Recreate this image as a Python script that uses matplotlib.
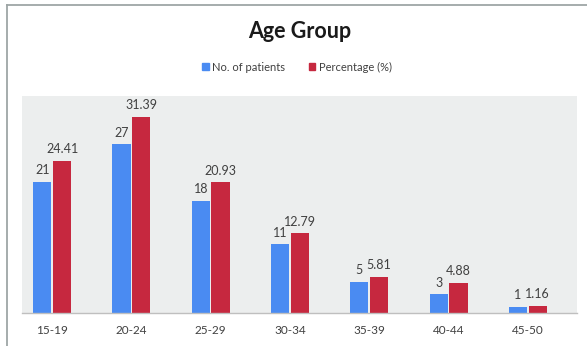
import matplotlib.pyplot as plt
from matplotlib.lines import Line2D
from matplotlib.patches import Patch
import numpy as np

age_groups = ['15-19', '20-24', '25-29', '30-34', '35-39', '40-44', '45-50']
patients = [21, 27, 18, 11, 5, 3, 1]
percentage = [24.41, 31.39, 20.93, 12.79, 5.81, 4.88, 1.16]
count_labels = ['21', '27', '18', '11', '5', '3', '1']
pct_labels = ['24.41', '31.39', '20.93', '12.79', '5.81', '4.88', '1.16']

blue = '#4A8BF2'
red = '#C6283F'
text_col = '#404040'

plt.rcParams['font.family'] = ['Lato', 'DejaVu Sans']

fig = plt.figure(figsize=(5.87, 3.46), dpi=100)
fig.patch.set_facecolor('white')

# chart frame (left and top edges only visible)
fig.add_artist(Line2D([7/587, 7/587], [0, 1 - 5/346], transform=fig.transFigure, color='#9EA6A6', lw=1.3))
fig.add_artist(Line2D([7/587, 1], [1 - 5/346, 1 - 5/346], transform=fig.transFigure, color='#9EA6A6', lw=1.3))

ax = fig.add_axes([22/587, 33/346, 555/587, 217/346])
ax.set_facecolor('#ECEEEE')

x = np.arange(len(age_groups))
w = 0.23
b1 = ax.bar(x - 0.125, patients, w, color=blue, zorder=2)
b2 = ax.bar(x + 0.125, percentage, w, color=red, zorder=2)

for rect, lab in zip(b1, count_labels):
    ax.annotate(lab, (rect.get_x() + rect.get_width() / 2, rect.get_height()),
                xytext=(0, 4), textcoords='offset points', ha='center', va='bottom',
                fontsize=9, color=text_col)
for rect, lab in zip(b2, pct_labels):
    ax.annotate(lab, (rect.get_x() + rect.get_width() / 2, rect.get_height()),
                xytext=(0, 4), textcoords='offset points', ha='center', va='bottom',
                fontsize=9, color=text_col)

ax.set_xlim(-0.38, 6.62)
ax.set_ylim(0, 34.75)
ax.set_xticks(x)
ax.set_xticklabels(age_groups, fontsize=8.5, color=text_col)
ax.set_yticks([])
ax.tick_params(axis='x', length=0, pad=9)
for s in ['top', 'right', 'left']:
    ax.spines[s].set_visible(False)
ax.spines['bottom'].set_color('#BFBFBF')
ax.spines['bottom'].set_linewidth(1)

fig.text(300/587, 1 - 32/346, 'Age Group', ha='center', va='center',
         fontsize=15.5, fontweight='bold', color='#1A1A1A')

handles = [Patch(color=blue, label='No. of patients'), Patch(color=red, label='Percentage (%)')]
fig.legend(handles=handles, loc='center', bbox_to_anchor=(297/587, 1 - 67/346), ncol=2,
           frameon=False, fontsize=8, handlelength=0.6, handleheight=0.6, handletextpad=0.3,
           columnspacing=2.1, labelcolor=text_col)

fig.savefig('out.png', dpi=100)
